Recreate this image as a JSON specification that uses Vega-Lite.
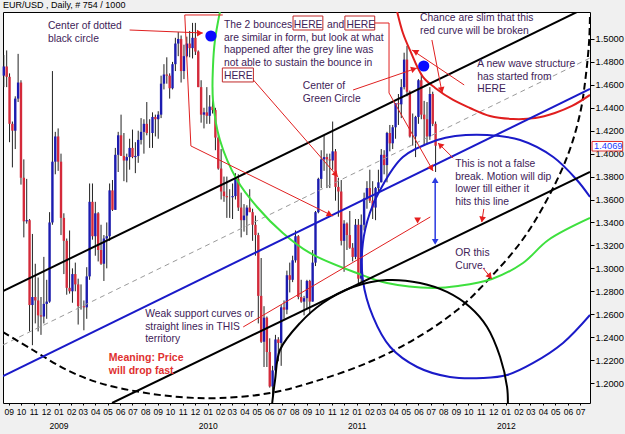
{
"$schema":"https://vega.github.io/schema/vega-lite/v6.json",
"width":587,"height":391,
"autosize":{"type":"none"},
"padding":{"left":3,"top":12,"right":35,"bottom":31},
"background":"#f0f0f0",
"config":{"view":{"fill":"white","stroke":"#000","strokeWidth":1},"font":"Liberation Sans"},
"title":{"text":"EUR/USD , Daily, # 754 / 1000","anchor":"start","frame":"group","offset":2,"fontSize":9,"fontWeight":"normal","font":"Liberation Sans","color":"#000"},
"datasets":{
"px":[
{"d":"2008-08-20","o":1.468,"h":1.486,"l":1.458,"c":1.476},
{"d":"2008-08-27","o":1.476,"h":1.490,"l":1.458,"c":1.467},
{"d":"2008-09-03","o":1.467,"h":1.470,"l":1.410,"c":1.426},
{"d":"2008-09-10","o":1.426,"h":1.428,"l":1.388,"c":1.420},
{"d":"2008-09-17","o":1.420,"h":1.450,"l":1.404,"c":1.448},
{"d":"2008-09-24","o":1.448,"h":1.487,"l":1.445,"c":1.462},
{"d":"2008-10-01","o":1.462,"h":1.464,"l":1.373,"c":1.379},
{"d":"2008-10-08","o":1.379,"h":1.395,"l":1.327,"c":1.341},
{"d":"2008-10-15","o":1.341,"h":1.378,"l":1.339,"c":1.342},
{"d":"2008-10-22","o":1.342,"h":1.343,"l":1.245,"c":1.268},
{"d":"2008-10-29","o":1.268,"h":1.330,"l":1.233,"c":1.275},
{"d":"2008-11-05","o":1.275,"h":1.304,"l":1.252,"c":1.272},
{"d":"2008-11-12","o":1.272,"h":1.292,"l":1.245,"c":1.259},
{"d":"2008-11-19","o":1.259,"h":1.275,"l":1.242,"c":1.258},
{"d":"2008-11-26","o":1.258,"h":1.310,"l":1.252,"c":1.269},
{"d":"2008-12-03","o":1.269,"h":1.290,"l":1.256,"c":1.271},
{"d":"2008-12-10","o":1.271,"h":1.349,"l":1.270,"c":1.340},
{"d":"2008-12-17","o":1.340,"h":1.472,"l":1.338,"c":1.393},
{"d":"2008-12-24","o":1.393,"h":1.419,"l":1.382,"c":1.415},
{"d":"2008-12-31","o":1.415,"h":1.422,"l":1.385,"c":1.393},
{"d":"2009-01-07","o":1.393,"h":1.400,"l":1.329,"c":1.344},
{"d":"2009-01-14","o":1.344,"h":1.348,"l":1.295,"c":1.324},
{"d":"2009-01-21","o":1.324,"h":1.326,"l":1.277,"c":1.283},
{"d":"2009-01-28","o":1.283,"h":1.333,"l":1.278,"c":1.280},
{"d":"2009-02-04","o":1.280,"h":1.300,"l":1.270,"c":1.295},
{"d":"2009-02-11","o":1.295,"h":1.305,"l":1.280,"c":1.286},
{"d":"2009-02-18","o":1.286,"h":1.291,"l":1.251,"c":1.267},
{"d":"2009-02-25","o":1.267,"h":1.286,"l":1.264,"c":1.267},
{"d":"2009-03-04","o":1.267,"h":1.272,"l":1.246,"c":1.266},
{"d":"2009-03-11","o":1.266,"h":1.301,"l":1.256,"c":1.293},
{"d":"2009-03-18","o":1.293,"h":1.374,"l":1.290,"c":1.358},
{"d":"2009-03-25","o":1.358,"h":1.374,"l":1.325,"c":1.328},
{"d":"2009-04-01","o":1.328,"h":1.358,"l":1.311,"c":1.348},
{"d":"2009-04-08","o":1.348,"h":1.349,"l":1.306,"c":1.316},
{"d":"2009-04-15","o":1.316,"h":1.338,"l":1.303,"c":1.304},
{"d":"2009-04-22","o":1.304,"h":1.329,"l":1.289,"c":1.326},
{"d":"2009-04-29","o":1.326,"h":1.340,"l":1.300,"c":1.328},
{"d":"2009-05-06","o":1.328,"h":1.374,"l":1.324,"c":1.368},
{"d":"2009-05-13","o":1.368,"h":1.377,"l":1.350,"c":1.351},
{"d":"2009-05-20","o":1.351,"h":1.405,"l":1.351,"c":1.399},
{"d":"2009-05-27","o":1.399,"h":1.419,"l":1.384,"c":1.416},
{"d":"2009-06-03","o":1.416,"h":1.434,"l":1.399,"c":1.398},
{"d":"2009-06-10","o":1.398,"h":1.418,"l":1.376,"c":1.394},
{"d":"2009-06-17","o":1.394,"h":1.400,"l":1.375,"c":1.397},
{"d":"2009-06-24","o":1.397,"h":1.413,"l":1.386,"c":1.405},
{"d":"2009-07-01","o":1.405,"h":1.421,"l":1.396,"c":1.397},
{"d":"2009-07-08","o":1.397,"h":1.410,"l":1.383,"c":1.398},
{"d":"2009-07-15","o":1.398,"h":1.420,"l":1.392,"c":1.412},
{"d":"2009-07-22","o":1.412,"h":1.431,"l":1.408,"c":1.419},
{"d":"2009-07-29","o":1.419,"h":1.430,"l":1.400,"c":1.426},
{"d":"2009-08-05","o":1.426,"h":1.445,"l":1.416,"c":1.418},
{"d":"2009-08-12","o":1.418,"h":1.430,"l":1.405,"c":1.418},
{"d":"2009-08-19","o":1.418,"h":1.436,"l":1.405,"c":1.432},
{"d":"2009-08-26","o":1.432,"h":1.434,"l":1.415,"c":1.430},
{"d":"2009-09-02","o":1.430,"h":1.437,"l":1.413,"c":1.434},
{"d":"2009-09-09","o":1.434,"h":1.468,"l":1.431,"c":1.461},
{"d":"2009-09-16","o":1.461,"h":1.478,"l":1.456,"c":1.469},
{"d":"2009-09-23","o":1.469,"h":1.484,"l":1.461,"c":1.468},
{"d":"2009-09-30","o":1.468,"h":1.470,"l":1.448,"c":1.457},
{"d":"2009-10-07","o":1.457,"h":1.480,"l":1.456,"c":1.478},
{"d":"2009-10-14","o":1.478,"h":1.501,"l":1.472,"c":1.496},
{"d":"2009-10-21","o":1.496,"h":1.506,"l":1.485,"c":1.500},
{"d":"2009-10-28","o":1.500,"h":1.503,"l":1.462,"c":1.472},
{"d":"2009-11-04","o":1.472,"h":1.495,"l":1.465,"c":1.485},
{"d":"2009-11-11","o":1.485,"h":1.502,"l":1.484,"c":1.496},
{"d":"2009-11-18","o":1.496,"h":1.507,"l":1.484,"c":1.492},
{"d":"2009-11-25","o":1.492,"h":1.514,"l":1.483,"c":1.501},
{"d":"2009-12-02","o":1.501,"h":1.514,"l":1.486,"c":1.489},
{"d":"2009-12-09","o":1.489,"h":1.490,"l":1.458,"c":1.458},
{"d":"2009-12-16","o":1.458,"h":1.464,"l":1.427,"c":1.434},
{"d":"2009-12-23","o":1.434,"h":1.440,"l":1.422,"c":1.436},
{"d":"2009-12-30","o":1.436,"h":1.458,"l":1.426,"c":1.433},
{"d":"2010-01-06","o":1.433,"h":1.451,"l":1.426,"c":1.441},
{"d":"2010-01-13","o":1.441,"h":1.458,"l":1.435,"c":1.438},
{"d":"2010-01-20","o":1.438,"h":1.440,"l":1.403,"c":1.414},
{"d":"2010-01-27","o":1.414,"h":1.418,"l":1.386,"c":1.387},
{"d":"2010-02-03","o":1.387,"h":1.404,"l":1.360,"c":1.367},
{"d":"2010-02-10","o":1.367,"h":1.380,"l":1.358,"c":1.363},
{"d":"2010-02-17","o":1.363,"h":1.380,"l":1.344,"c":1.362},
{"d":"2010-02-24","o":1.362,"h":1.369,"l":1.344,"c":1.362},
{"d":"2010-03-03","o":1.362,"h":1.374,"l":1.343,"c":1.363},
{"d":"2010-03-10","o":1.363,"h":1.383,"l":1.360,"c":1.378},
{"d":"2010-03-17","o":1.378,"h":1.382,"l":1.350,"c":1.353},
{"d":"2010-03-24","o":1.353,"h":1.366,"l":1.327,"c":1.342},
{"d":"2010-03-31","o":1.342,"h":1.356,"l":1.332,"c":1.346},
{"d":"2010-04-07","o":1.346,"h":1.355,"l":1.329,"c":1.353},
{"d":"2010-04-14","o":1.353,"h":1.369,"l":1.349,"c":1.349},
{"d":"2010-04-21","o":1.349,"h":1.352,"l":1.324,"c":1.338},
{"d":"2010-04-28","o":1.338,"h":1.346,"l":1.311,"c":1.329},
{"d":"2010-05-05","o":1.329,"h":1.331,"l":1.252,"c":1.276},
{"d":"2010-05-12","o":1.276,"h":1.309,"l":1.235,"c":1.236},
{"d":"2010-05-19","o":1.236,"h":1.267,"l":1.214,"c":1.257},
{"d":"2010-05-26","o":1.257,"h":1.258,"l":1.214,"c":1.227},
{"d":"2010-06-02","o":1.227,"h":1.239,"l":1.196,"c":1.197},
{"d":"2010-06-09","o":1.197,"h":1.215,"l":1.188,"c":1.211},
{"d":"2010-06-16","o":1.211,"h":1.242,"l":1.211,"c":1.238},
{"d":"2010-06-23","o":1.238,"h":1.240,"l":1.219,"c":1.235},
{"d":"2010-06-30","o":1.235,"h":1.268,"l":1.215,"c":1.266},
{"d":"2010-07-07","o":1.266,"h":1.272,"l":1.256,"c":1.264},
{"d":"2010-07-14","o":1.264,"h":1.298,"l":1.260,"c":1.294},
{"d":"2010-07-21","o":1.294,"h":1.305,"l":1.279,"c":1.290},
{"d":"2010-07-28","o":1.290,"h":1.311,"l":1.288,"c":1.307},
{"d":"2010-08-04","o":1.307,"h":1.333,"l":1.305,"c":1.328},
{"d":"2010-08-11","o":1.328,"h":1.329,"l":1.273,"c":1.275},
{"d":"2010-08-18","o":1.275,"h":1.290,"l":1.270,"c":1.271},
{"d":"2010-08-25","o":1.271,"h":1.276,"l":1.259,"c":1.274},
{"d":"2010-09-01","o":1.274,"h":1.290,"l":1.265,"c":1.289},
{"d":"2010-09-08","o":1.289,"h":1.290,"l":1.260,"c":1.271},
{"d":"2010-09-15","o":1.271,"h":1.316,"l":1.271,"c":1.305},
{"d":"2010-09-22","o":1.305,"h":1.350,"l":1.302,"c":1.349},
{"d":"2010-09-29","o":1.349,"h":1.379,"l":1.348,"c":1.378},
{"d":"2010-10-06","o":1.378,"h":1.403,"l":1.370,"c":1.395},
{"d":"2010-10-13","o":1.395,"h":1.416,"l":1.385,"c":1.397},
{"d":"2010-10-20","o":1.397,"h":1.400,"l":1.370,"c":1.395},
{"d":"2010-10-27","o":1.395,"h":1.400,"l":1.370,"c":1.394},
{"d":"2010-11-03","o":1.394,"h":1.428,"l":1.386,"c":1.402},
{"d":"2010-11-10","o":1.402,"h":1.404,"l":1.359,"c":1.371},
{"d":"2010-11-17","o":1.371,"h":1.379,"l":1.345,"c":1.367},
{"d":"2010-11-24","o":1.367,"h":1.377,"l":1.320,"c":1.324},
{"d":"2010-12-01","o":1.324,"h":1.342,"l":1.297,"c":1.339},
{"d":"2010-12-08","o":1.339,"h":1.340,"l":1.316,"c":1.329},
{"d":"2010-12-15","o":1.329,"h":1.350,"l":1.317,"c":1.318},
{"d":"2010-12-22","o":1.318,"h":1.322,"l":1.306,"c":1.310},
{"d":"2010-12-29","o":1.310,"h":1.343,"l":1.308,"c":1.338},
{"d":"2011-01-05","o":1.338,"h":1.343,"l":1.286,"c":1.291},
{"d":"2011-01-12","o":1.291,"h":1.347,"l":1.287,"c":1.338},
{"d":"2011-01-19","o":1.338,"h":1.366,"l":1.333,"c":1.361},
{"d":"2011-01-26","o":1.361,"h":1.376,"l":1.352,"c":1.370},
{"d":"2011-02-02","o":1.370,"h":1.386,"l":1.357,"c":1.359},
{"d":"2011-02-09","o":1.359,"h":1.376,"l":1.343,"c":1.353},
{"d":"2011-02-16","o":1.353,"h":1.371,"l":1.342,"c":1.370},
{"d":"2011-02-23","o":1.370,"h":1.386,"l":1.365,"c":1.375},
{"d":"2011-03-02","o":1.375,"h":1.404,"l":1.375,"c":1.399},
{"d":"2011-03-09","o":1.399,"h":1.403,"l":1.382,"c":1.390},
{"d":"2011-03-16","o":1.390,"h":1.419,"l":1.375,"c":1.418},
{"d":"2011-03-23","o":1.418,"h":1.425,"l":1.402,"c":1.409},
{"d":"2011-03-30","o":1.409,"h":1.425,"l":1.404,"c":1.423},
{"d":"2011-04-06","o":1.423,"h":1.444,"l":1.413,"c":1.444},
{"d":"2011-04-13","o":1.444,"h":1.452,"l":1.425,"c":1.443},
{"d":"2011-04-20","o":1.443,"h":1.465,"l":1.431,"c":1.458},
{"d":"2011-04-27","o":1.458,"h":1.488,"l":1.456,"c":1.482},
{"d":"2011-05-04","o":1.482,"h":1.494,"l":1.450,"c":1.454},
{"d":"2011-05-11","o":1.454,"h":1.455,"l":1.414,"c":1.415},
{"d":"2011-05-18","o":1.415,"h":1.435,"l":1.407,"c":1.415},
{"d":"2011-05-25","o":1.415,"h":1.433,"l":1.397,"c":1.432},
{"d":"2011-06-01","o":1.432,"h":1.465,"l":1.426,"c":1.464},
{"d":"2011-06-08","o":1.464,"h":1.470,"l":1.430,"c":1.434},
{"d":"2011-06-15","o":1.434,"h":1.446,"l":1.407,"c":1.430},
{"d":"2011-06-22","o":1.430,"h":1.445,"l":1.408,"c":1.415},
{"d":"2011-06-29","o":1.415,"h":1.458,"l":1.412,"c":1.452},
{"d":"2011-07-06","o":1.452,"h":1.454,"l":1.424,"c":1.426},
{"d":"2011-07-13","o":1.426,"h":1.428,"l":1.384,"c":1.4069}
],
"blk":[
{"g":"up","i":0,"d":"2008-08-18","p":1.2802},{"g":"up","i":1,"d":"2012-07-25","p":1.5290},
{"g":"lo","i":0,"d":"2009-05-12","p":1.1826},{"g":"lo","i":1,"d":"2012-07-25","p":1.3840},
{"g":"circ","i":0,"d":"2010-06-08","p":1.1826},{"g":"circ","i":1,"d":"2010-06-15","p":1.2026},
{"g":"circ","i":2,"d":"2010-06-27","p":1.2288},{"g":"circ","i":3,"d":"2010-08-15","p":1.2523},
{"g":"circ","i":4,"d":"2010-10-10","p":1.2698},{"g":"circ","i":5,"d":"2010-12-23","p":1.2837},
{"g":"circ","i":6,"d":"2011-03-16","p":1.2898},{"g":"circ","i":7,"d":"2011-06-05","p":1.2872},
{"g":"circ","i":8,"d":"2011-08-10","p":1.2794},{"g":"circ","i":9,"d":"2011-10-05","p":1.2663},
{"g":"circ","i":10,"d":"2011-11-16","p":1.2489},{"g":"circ","i":11,"d":"2011-12-18","p":1.2227},
{"g":"circ","i":12,"d":"2012-01-04","p":1.1965},{"g":"circ","i":13,"d":"2012-01-06","p":1.1826}
],
"blu":[
{"g":"ln","i":0,"d":"2008-08-18","p":1.2061},{"g":"ln","i":1,"d":"2012-07-25","p":1.4564},
{"g":"c","i":0,"d":"2012-07-25","p":1.3622},{"g":"c","i":1,"d":"2012-06-23","p":1.3770},
{"g":"c","i":2,"d":"2012-04-26","p":1.3971},{"g":"c","i":3,"d":"2012-02-05","p":1.4119},
{"g":"c","i":4,"d":"2011-11-16","p":1.4163},{"g":"c","i":5,"d":"2011-08-30","p":1.4154},
{"g":"c","i":6,"d":"2011-07-17","p":1.4119},{"g":"c","i":7,"d":"2011-04-24","p":1.3971},
{"g":"c","i":8,"d":"2011-02-27","p":1.3683},{"g":"c","i":9,"d":"2011-02-02","p":1.3483},
{"g":"c","i":10,"d":"2011-01-16","p":1.3221},{"g":"c","i":11,"d":"2011-01-16","p":1.2898},
{"g":"c","i":12,"d":"2011-02-10","p":1.2576},{"g":"c","i":13,"d":"2011-03-24","p":1.2314},
{"g":"c","i":14,"d":"2011-05-29","p":1.2140},{"g":"c","i":15,"d":"2011-08-17","p":1.2053},
{"g":"c","i":16,"d":"2011-11-06","p":1.2044},{"g":"c","i":17,"d":"2012-01-04","p":1.2070},
{"g":"c","i":18,"d":"2012-03-08","p":1.2175},{"g":"c","i":19,"d":"2012-05-20","p":1.2349},
{"g":"c","i":20,"d":"2012-07-25","p":1.2593}
],
"gry":[{"g":"g","i":0,"d":"2008-08-18","p":1.2332},{"g":"g","i":1,"d":"2012-07-25","p":1.4834}],
"dsh":[
{"g":"d","i":0,"d":"2008-08-18","p":1.2445},{"g":"d","i":1,"d":"2008-10-30","p":1.2288},
{"g":"d","i":2,"d":"2009-01-21","p":1.2114},{"g":"d","i":3,"d":"2009-04-12","p":1.2000},
{"g":"d","i":4,"d":"2009-07-19","p":1.1922},{"g":"d","i":5,"d":"2009-10-25","p":1.1878},
{"g":"d","i":6,"d":"2010-01-31","p":1.1869},{"g":"d","i":7,"d":"2010-06-03","p":1.1913},
{"g":"d","i":8,"d":"2010-09-16","p":1.2009},{"g":"d","i":9,"d":"2011-01-26","p":1.2175},
{"g":"d","i":10,"d":"2011-05-19","p":1.2375},{"g":"d","i":11,"d":"2011-09-04","p":1.2637},
{"g":"d","i":12,"d":"2011-11-23","p":1.2916},{"g":"d","i":13,"d":"2012-02-05","p":1.3221},
{"g":"d","i":14,"d":"2012-04-01","p":1.3535},{"g":"d","i":15,"d":"2012-05-30","p":1.3971},
{"g":"d","i":16,"d":"2012-07-01","p":1.4355},{"g":"d","i":17,"d":"2012-07-15","p":1.4686},
{"g":"d","i":18,"d":"2012-07-23","p":1.4991},{"g":"d","i":19,"d":"2012-07-25","p":1.5218}
],
"grn":[
{"g":"g","i":0,"d":"2010-01-31","p":1.5235},{"g":"g","i":1,"d":"2010-01-19","p":1.4991},
{"g":"g","i":2,"d":"2010-01-14","p":1.4756},{"g":"g","i":3,"d":"2010-01-14","p":1.4468},
{"g":"g","i":4,"d":"2010-01-31","p":1.4119},{"g":"g","i":5,"d":"2010-03-14","p":1.3770},
{"g":"g","i":6,"d":"2010-05-02","p":1.3535},{"g":"g","i":7,"d":"2010-07-04","p":1.3308},
{"g":"g","i":8,"d":"2010-09-08","p":1.3134},{"g":"g","i":9,"d":"2011-01-01","p":1.2959},
{"g":"g","i":10,"d":"2011-03-16","p":1.2872},{"g":"g","i":11,"d":"2011-07-07","p":1.2829},
{"g":"g","i":12,"d":"2011-09-06","p":1.2846},{"g":"g","i":13,"d":"2011-11-28","p":1.2907},
{"g":"g","i":14,"d":"2012-02-12","p":1.3047},{"g":"g","i":15,"d":"2012-04-14","p":1.3247},
{"g":"g","i":16,"d":"2012-07-25","p":1.3439}
],
"red":[
{"g":"r","i":0,"d":"2011-04-10","p":1.5235},{"g":"r","i":1,"d":"2011-04-24","p":1.5052},
{"g":"r","i":2,"d":"2011-05-11","p":1.4904},{"g":"r","i":3,"d":"2011-06-12","p":1.4669},
{"g":"r","i":4,"d":"2011-07-12","p":1.4573},{"g":"r","i":5,"d":"2011-08-25","p":1.4468},
{"g":"r","i":6,"d":"2011-10-05","p":1.4398},{"g":"r","i":7,"d":"2011-11-23","p":1.4328},
{"g":"r","i":8,"d":"2012-01-19","p":1.4302},{"g":"r","i":9,"d":"2012-03-13","p":1.4311},
{"g":"r","i":10,"d":"2012-04-30","p":1.4355},{"g":"r","i":11,"d":"2012-06-11","p":1.4416},
{"g":"r","i":12,"d":"2012-07-25","p":1.4512}
],
"ann":[
{"g":"a0","i":0,"d":"2009-06-24","p":1.5078},{"g":"a0","i":1,"d":"2009-12-20","p":1.5052},
{"g":"a1","i":0,"d":"2010-02-07","p":1.5209},{"g":"a1","i":1,"d":"2009-11-06","p":1.5209},
{"g":"a1","i":2,"d":"2009-11-21","p":1.4067},{"g":"a1","i":3,"d":"2010-11-04","p":1.3456},
{"g":"a2","i":0,"d":"2010-04-23","p":1.4642},{"g":"a2","i":1,"d":"2010-11-16","p":1.3797},
{"g":"a3","i":0,"d":"2011-02-14","p":1.5139},{"g":"a3","i":1,"d":"2011-03-21","p":1.5139},
{"g":"a3","i":2,"d":"2011-03-21","p":1.4529},{"g":"a3","i":3,"d":"2011-07-07","p":1.3849},
{"g":"a4","i":0,"d":"2010-12-23","p":1.4555},{"g":"a4","i":1,"d":"2011-05-29","p":1.4747},
{"g":"a5","i":0,"d":"2011-09-21","p":1.4599},{"g":"a5","i":1,"d":"2011-05-16","p":1.4904},
{"g":"a6","i":0,"d":"2011-07-04","p":1.4991},{"g":"a6","i":1,"d":"2011-07-29","p":1.4529},
{"g":"a7","i":0,"d":"2011-08-25","p":1.3962},{"g":"a7","i":1,"d":"2011-07-19","p":1.4093},
{"g":"a8","i":0,"d":"2010-03-29","p":1.2489},{"g":"a8","i":1,"d":"2011-06-30","p":1.3448},
{"g":"a9","i":0,"d":"2011-11-08","p":1.3518},{"g":"a9","i":1,"d":"2011-11-03","p":1.3404},
{"g":"a10","i":0,"d":"2011-11-06","p":1.3003},{"g":"a10","i":1,"d":"2011-11-28","p":1.2907}
],
"heads":[
{"d":"2009-12-13","p":1.5052,"a":88},
{"d":"2010-10-27","p":1.3470,"a":116},
{"d":"2010-11-11","p":1.3818,"a":139},
{"d":"2011-07-03","p":1.3871,"a":151},
{"d":"2011-05-21","p":1.4738,"a":71},
{"d":"2011-05-24","p":1.4891,"a":300},
{"d":"2011-07-28","p":1.4555,"a":169},
{"d":"2011-07-24","p":1.4076,"a":315},
{"d":"2011-06-01","p":1.3430,"a":60},
{"d":"2011-11-04","p":1.3426,"a":189},
{"d":"2011-11-23","p":1.2929,"a":141}
],
"barrow":[{"d":"2011-07-12","p":1.3780,"p2":1.3220}],
"bheads":[{"d":"2011-07-12","p":1.3770,"a":0},{"d":"2011-07-12","p":1.3230,"a":180}],
"dots":[{"d":"2010-01-09","p":1.5026},{"d":"2011-06-14","p":1.4764}],
"boxes":[
{"d":"2010-07-29","d2":"2010-10-10","p":1.5200,"p2":1.5078},
{"d":"2010-12-03","d2":"2011-02-14","p":1.5200,"p2":1.5078},
{"d":"2010-02-06","d2":"2010-04-23","p":1.4747,"p2":1.4625}
],
"txt":[
{"d":"2008-12-06","p":1.5157,"t":"Center of dotted\nblack circle"},
{"d":"2010-02-10","p":1.5166,"t":"The 2 bounces"},
{"d":"2010-07-31","p":1.5166,"t":"HERE"},
{"d":"2010-10-20","p":1.5166,"t":"and"},
{"d":"2010-12-07","p":1.5166,"t":"HERE"},
{"d":"2010-02-10","p":1.5055,"t":"are similar in form, but look at what\nhappened after the grey line was\nnot able to sustain the bounce in\nHERE"},
{"d":"2010-08-22","p":1.4634,"t":"Center of\nGreen Circle"},
{"d":"2011-06-05","p":1.5227,"t":"Chance are slim that this\nred curve will be broken"},
{"d":"2011-10-23","p":1.4826,"t":"A new wave structure\nhas started from\nHERE"},
{"d":"2011-08-30","p":1.3953,"t":"This is not a false\nbreak.  Motion will dip\nlower till either it\nhits this line"},
{"d":"2011-08-30","p":1.3177,"t":"OR this\nCurve."},
{"d":"2009-08-01","p":1.2646,"t":"Weak support curves or\nstraight lines in THIS\nterritory"}
],
"txtr":[{"d":"2009-05-04","p":1.2262,"t":"Meaning: Price\nwill drop fast"}],
"lblbox":[{"d":"2012-07-30","d2":"2012-10-13","p":1.4106,"p2":1.4023}],
"lbl":[{"d":"2012-08-04","p":1.4069,"t":"1.4069"}]
},
"encoding":{
"x":{"field":"d","type":"temporal","scale":{"type":"utc","domain":[{"year":2008,"month":8,"date":18,"utc":true},{"year":2012,"month":7,"date":25,"utc":true}]},
"axis":{"orient":"bottom","title":null,"tickCount":{"interval":"month","step":1},"labelExpr":"utcmonth(datum.value)==0 ? [utcFormat(datum.value,'%m'), utcFormat(datum.value,'%Y')] : utcFormat(datum.value,'%m')","labelFontSize":8.5,"labelOverlap":false,"labelFlush":false,"labelBound":false,"labelLineHeight":14,"tickSize":2,"labelPadding":2,"domain":false,"grid":false,"labelColor":"#000","tickColor":"#000","labelFont":"Liberation Sans"}},
"y":{"field":"p","type":"quantitative","scale":{"domain":[1.1826,1.5235],"nice":false,"zero":false},
"axis":{"orient":"right","title":null,"values":[1.2,1.22,1.24,1.26,1.28,1.3,1.32,1.34,1.36,1.38,1.4,1.42,1.44,1.46,1.48,1.5],"format":".4f","labelFontSize":9.3,"tickSize":4,"labelPadding":1,"domain":false,"grid":false,"labelColor":"#000","tickColor":"#000","labelFont":"Liberation Sans"}}
},
"layer":[
{"data":{"name":"px"},"mark":{"type":"rule","strokeWidth":1,"color":"#222"},
 "encoding":{"y":{"field":"l","type":"quantitative","scale":{"domain":[1.1826,1.5235],"nice":false,"zero":false},
 "axis":{"orient":"right","title":null,"values":[1.2,1.22,1.24,1.26,1.28,1.3,1.32,1.34,1.36,1.38,1.4,1.42,1.44,1.46,1.48,1.5],"format":".4f","labelFontSize":9.3,"tickSize":4,"labelPadding":1,"domain":false,"grid":false,"labelColor":"#000","tickColor":"#000","labelFont":"Liberation Sans"}},"y2":{"field":"h"}}},
{"data":{"name":"px"},"mark":{"type":"rule","strokeWidth":2.4},
 "encoding":{"y":{"field":"o","type":"quantitative","scale":{"domain":[1.1826,1.5235],"nice":false,"zero":false},
 "axis":{"orient":"right","title":null,"values":[1.2,1.22,1.24,1.26,1.28,1.3,1.32,1.34,1.36,1.38,1.4,1.42,1.44,1.46,1.48,1.5],"format":".4f","labelFontSize":9.3,"tickSize":4,"labelPadding":1,"domain":false,"grid":false,"labelColor":"#000","tickColor":"#000","labelFont":"Liberation Sans"}},"y2":{"field":"c"},
 "color":{"condition":{"test":"datum.c >= datum.o","value":"#1c1cb0"},"value":"#d42a3a"}}},
{"data":{"name":"gry"},"mark":{"type":"line","clip":true,"color":"#9a9a9a","strokeWidth":1,"strokeDash":[5,4]},
 "encoding":{"detail":{"field":"g"},"order":{"field":"i","type":"quantitative"}}},
{"data":{"name":"dsh"},"mark":{"type":"line","clip":true,"color":"#000","strokeWidth":2,"strokeDash":[7,4],"interpolate":"catmull-rom"},
 "encoding":{"detail":{"field":"g"},"order":{"field":"i","type":"quantitative"}}},
{"data":{"name":"grn"},"mark":{"type":"line","clip":true,"color":"#3ee03e","strokeWidth":2,"interpolate":"catmull-rom"},
 "encoding":{"detail":{"field":"g"},"order":{"field":"i","type":"quantitative"}}},
{"data":{"name":"red"},"mark":{"type":"line","clip":true,"color":"#e01e1e","strokeWidth":2,"interpolate":"catmull-rom"},
 "encoding":{"detail":{"field":"g"},"order":{"field":"i","type":"quantitative"}}},
{"data":{"name":"blu"},"mark":{"type":"line","clip":true,"color":"#1a1ac8","strokeWidth":2,"interpolate":"catmull-rom"},
 "encoding":{"detail":{"field":"g"},"order":{"field":"i","type":"quantitative"}}},
{"data":{"name":"blk"},"mark":{"type":"line","clip":true,"color":"#000","strokeWidth":2,"interpolate":"catmull-rom"},
 "encoding":{"detail":{"field":"g"},"order":{"field":"i","type":"quantitative"}}},
{"data":{"name":"ann"},"mark":{"type":"line","clip":true,"color":"#e02020","strokeWidth":1},
 "encoding":{"detail":{"field":"g"},"order":{"field":"i","type":"quantitative"}}},
{"data":{"name":"heads"},"mark":{"type":"point","shape":"triangle-up","filled":true,"size":45,"color":"#e61e1e","opacity":1},
 "encoding":{"angle":{"field":"a","type":"quantitative","scale":null}}},
{"data":{"name":"barrow"},"mark":{"type":"rule","color":"#2a3ae0","strokeWidth":1.5},
 "encoding":{"y2":{"field":"p2"}}},
{"data":{"name":"bheads"},"mark":{"type":"point","shape":"triangle-up","filled":true,"size":45,"color":"#2a3ae0","opacity":1},
 "encoding":{"angle":{"field":"a","type":"quantitative","scale":null}}},
{"data":{"name":"dots"},"mark":{"type":"point","shape":"circle","filled":true,"size":125,"color":"#0a0aff","opacity":1}},
{"data":{"name":"boxes"},"mark":{"type":"rect","fill":"white","stroke":"#c02828","strokeWidth":1},
 "encoding":{"x2":{"field":"d2"},"y2":{"field":"p2"}}},
{"data":{"name":"txt"},"mark":{"type":"text","align":"left","baseline":"top","fontSize":10.3,"lineHeight":12.7,"lineBreak":"\n","color":"#3e2258","font":"Liberation Sans"},
 "encoding":{"text":{"field":"t"}}},
{"data":{"name":"txtr"},"mark":{"type":"text","align":"left","baseline":"top","fontSize":10.5,"fontWeight":"bold","lineHeight":12.7,"lineBreak":"\n","color":"#e03030","font":"Liberation Sans"},
 "encoding":{"text":{"field":"t"}}},
{"data":{"name":"lblbox"},"mark":{"type":"rect","fill":"white","stroke":"#e03030","strokeWidth":1},
 "encoding":{"x2":{"field":"d2"},"y2":{"field":"p2"}}},
{"data":{"name":"lbl"},"mark":{"type":"text","align":"left","baseline":"middle","fontSize":9.3,"color":"#1a3cff","font":"Liberation Sans"},
 "encoding":{"text":{"field":"t"}}}
]
}
